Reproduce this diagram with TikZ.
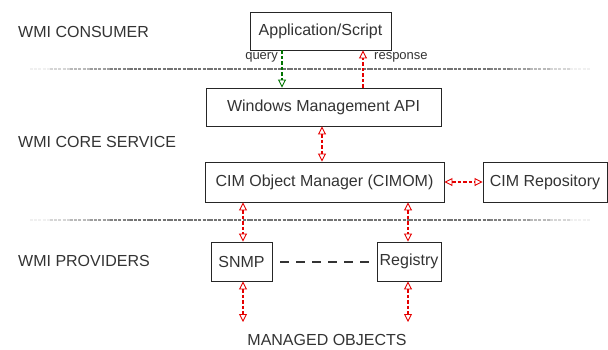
\documentclass[tikz,border=0pt]{standalone}
\usepackage{fontspec}
\setmainfont{Liberation Sans}
\usetikzlibrary{arrows.meta}
\definecolor{txt}{HTML}{333333}
\tikzset{
  box/.style={draw=black!85, line width=0.9pt, inner sep=0pt, align=center, text=txt, font=\fontsize{16}{18}\selectfont},
  lbl/.style={anchor=west, inner sep=0pt, text=txt, font=\fontsize{16}{18}\selectfont},
  redflow/.style={draw=red!90!black, line width=1.6pt, dash pattern=on 3.5pt off 2pt},
  greenflow/.style={draw=green!45!black, line width=1.6pt, dash pattern=on 3.5pt off 2pt},
  small/.style={font=\fontsize{13}{15}\selectfont, text=txt, inner sep=1pt},
  opentip/.tip={Triangle[open, length=8pt, width=8pt, line width=0.9pt]},
}
\begin{document}
\begin{tikzpicture}[x=1pt,y=-1pt]
\useasboundingbox (0,0) rectangle (608,349);
% separators
\foreach \y in {69,220}{
  \foreach \i in {0,...,27}{
    \pgfmathsetmacro\xa{30+20*\i}
    \pgfmathsetmacro\xb{\xa+20}
    \pgfmathsetmacro\op{max(0.1,min(0.95,0.95*min(\i+0.5,27.5-\i)/5))}
    \draw[gray!85!black, line width=2pt, dash pattern=on 3pt off 1.2pt, opacity=\op] (\xa,\y) -- (\xb,\y);
  }
}
% labels
\node[lbl] (lc) at (18,32) {WMI CONSUMER};
\node[lbl] (ls) at (18,142) {WMI CORE SERVICE};
\node[lbl] (lp) at (18,261) {WMI PROVIDERS};
% boxes
\node[box, minimum width=141pt, minimum height=38pt] (app) at (320.5,31) {Application/Script};
\node[box, minimum width=235pt, minimum height=38pt] (api) at (323.5,107) {Windows Management API};
\node[box, minimum width=239pt, minimum height=40pt] (cimom) at (324.5,182) {CIM Object Manager (CIMOM)};
\node[box, minimum width=124pt, minimum height=40pt] (repo) at (545,182) {CIM Repository};
\node[box, minimum width=61pt, minimum height=39pt] (snmp) at (241.5,261.5) {SNMP};
\node[box, minimum width=64pt, minimum height=39pt] (reg) at (409,261.5) {Registry};
\node[inner sep=0pt, text=txt, font=\fontsize{16}{18}\selectfont] (mo) at (327,340) {MANAGED OBJECTS};
\coordinate (snmpend) at (242,322);
\coordinate (regend) at (409,322);
% connectors
\draw[greenflow, -opentip] (app.south -| 282,0) -- (api.north -| 282,0);
\draw[redflow, -opentip] (api.north -| 363,0) -- (app.south -| 363,0);
\node[small, anchor=east] (q) at (279,57) {query};
\node[small, anchor=west] (r) at (373,57) {response};
\draw[redflow, opentip-opentip] (api.south -| 322,0) -- (cimom.north -| 322,0);
\draw[redflow, opentip-opentip] (cimom.east) -- (repo.west);
\draw[redflow, opentip-opentip] (cimom.south -| 243,0) -- (snmp.north -| 243,0);
\draw[redflow, opentip-opentip] (cimom.south -| 408,0) -- (reg.north -| 408,0);
\draw[redflow, opentip-opentip] (snmp.south -| 243,0) -- (snmpend -| 243,0);
\draw[redflow, opentip-opentip] (reg.south -| 408,0) -- (regend -| 408,0);
\draw[line width=2pt, dash pattern=on 9pt off 7pt, black!80] ([xshift=8pt]snmp.east) -- ([xshift=-6pt]reg.west);
\end{tikzpicture}
\end{document}
